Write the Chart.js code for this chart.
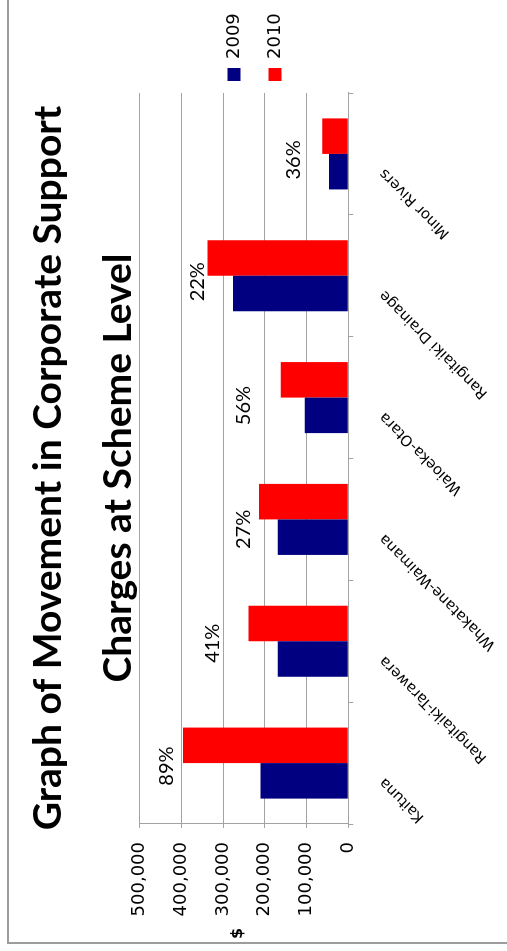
<!DOCTYPE html>
<html>
<head>
<meta charset="utf-8">
<title>Corporate Support Charges</title>
<script src="https://cdn.jsdelivr.net/npm/chart.js@4.4.1/dist/chart.umd.min.js"></script>
<style>
  html, body { margin: 0; padding: 0; background: #fff; }
  body { width: 507px; height: 951px; overflow: hidden; position: relative; }
  /* landscape chart turned a quarter turn counter-clockwise onto the portrait page */
  #frame {
    position: absolute; left: 0; top: 0;
    width: 951px; height: 507px;
    transform-origin: 0 0;
    transform: translate(0, 951px) rotate(-90deg);
  }
  #edge {
    position: absolute; left: 7px; top: 7px; right: -20px; bottom: -20px;
    border-left: 2px solid #9c9c9c; border-top: 2px solid #9c9c9c;
  }
  canvas { position: absolute; left: 0; top: 0; }
</style>
</head>
<body>
<div id="frame">
  <div id="edge"></div>
  <canvas id="chart" width="951" height="507"></canvas>
</div>
<script>
// Scheme-level corporate support charges ($)
const categories = ['Kaituna', 'Rangitaiki-Tarawera', 'Whakatane-Waimana', 'Waioeka-Otara', 'Rangitaiki Drainage', 'Minor Rivers'];
const seriesNames = ['2009', '2010'];
const charges2009 = [210000, 169000, 169000, 104000, 276000, 46000];
const charges2010 = [396000, 239000, 214000, 162000, 337000, 62500];
const valueTicks = [0, 100000, 200000, 300000, 400000, 500000];

const gridGray = '#a3a3a3';
const axisFont = '"DejaVu Sans", Verdana, sans-serif';

// percentage change 2009 -> 2010, written beside each scheme
const pctLabels = {
  id: 'pctLabels',
  afterDatasetsDraw(chart, args, opts) {
    const { ctx, scales: { x, y } } = chart;
    ctx.save();
    ctx.font = opts.font;
    ctx.fillStyle = opts.color;
    ctx.textAlign = 'center';
    ctx.textBaseline = 'middle';
    categories.forEach((name, i) => {
      const pct = Math.round((charges2010[i] / charges2009[i] - 1) * 100);
      ctx.fillText(pct + '%', x.getPixelForValue(i) + opts.nudge[i], y.getPixelForValue(opts.at[i]));
    });
    ctx.restore();
  }
};

// unit mark beside the value axis
const unitMark = {
  id: 'unitMark',
  afterDraw(chart, args, opts) {
    const { ctx, chartArea } = chart;
    ctx.save();
    ctx.font = opts.font;
    ctx.fillStyle = opts.color;
    ctx.textAlign = 'center';
    ctx.textBaseline = 'middle';
    ctx.fillText(opts.text, opts.x, (chartArea.top + chartArea.bottom) / 2 + opts.dy);
    ctx.restore();
  }
};

new Chart(document.getElementById('chart'), {
  type: 'bar',
  data: {
    labels: categories,
    datasets: [
      { label: seriesNames[0], data: charges2009, backgroundColor: '#000080', borderWidth: 0 },
      { label: seriesNames[1], data: charges2010, backgroundColor: '#ff0000', borderWidth: 0 }
    ]
  },
  options: {
    responsive: false,
    animation: false,
    devicePixelRatio: 1,
    datasets: { bar: { categoryPercentage: 0.583, barPercentage: 1 } },
    layout: { padding: { top: 13, right: 5, bottom: 0, left: 20 } },
    scales: {
      x: {
        grid: { offset: true, drawOnChartArea: false, drawTicks: true, tickLength: 5, color: gridGray },
        border: { display: true, color: gridGray, width: 1 },
        ticks: {
          color: '#000',
          font: { family: axisFont, size: 14.8 },
          minRotation: 45, maxRotation: 45,
          autoSkip: false,
          padding: 22.5,
          labelOffset: -17
        },
        afterFit(scale) { scale.height = 158.7; }
      },
      y: {
        min: valueTicks[0],
        max: valueTicks[valueTicks.length - 1],
        ticks: {
          stepSize: valueTicks[1] - valueTicks[0],
          color: '#000',
          font: { family: axisFont, size: 18 },
          padding: 14,
          callback: v => Number(v).toLocaleString('en-US')
        },
        grid: { color: gridGray, tickLength: 4, drawTicks: true },
        border: { display: true, color: gridGray, width: 1 },
        afterFit(scale) { scale.width = 107; }
      }
    },
    plugins: {
      title: {
        display: true,
        text: ['Graph of Movement in Corporate Support', 'Charges at Scheme Level'],
        color: '#000',
        font: { family: 'Lato, "Open Sans", sans-serif', weight: 'bold', size: 39, lineHeight: '70px' },
        padding: { top: 0, bottom: -13.5 }
      },
      legend: {
        position: 'right',
        maxWidth: 88,
        labels: {
          color: '#000',
          font: { family: axisFont, size: 18, lineHeight: '29px' },
          boxWidth: 13,
          boxHeight: 13,
          padding: 12,
          generateLabels(chart) {
            return Chart.defaults.plugins.legend.labels.generateLabels(chart)
              .map(item => Object.assign(item, { text: [item.text], lineWidth: 0 }));
          }
        }
      },
      tooltip: { enabled: false },
      pctLabels: {
        font: '20px Lato, "Open Sans", sans-serif',
        color: '#000',
        at: [435000, 324000, 252000, 250000, 361000, 132000],
        nudge: [-3, -2, -10, -8, -6, -6]
      },
      unitMark: {
        text: '$',
        font: 'bold 16px "DejaVu Sans", Verdana, sans-serif',
        color: '#000',
        x: 17.5,
        dy: -6.4
      }
    }
  },
  plugins: [pctLabels, unitMark]
});
</script>
</body>
</html>
